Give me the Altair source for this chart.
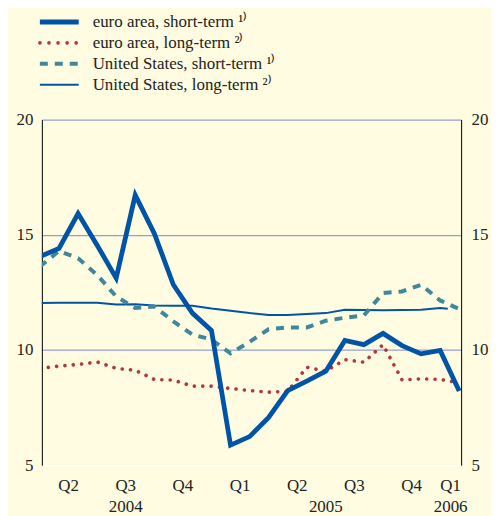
import altair as alt
import pandas as pd

# ---------------- data (monthly, Apr 2004 = 0) ----------------
months = list(range(23))
euro_short = [14.05, 14.41, 15.92, 14.55, 13.12, 16.72, 15.06, 12.83, 11.60, 10.85,
              5.87, 6.24, 7.07, 8.24, 8.65, 9.08, 10.41, 10.23, 10.72, 10.19,
              9.83, 9.98, 8.22]
euro_long_x = list(range(22)) + [21.8]
euro_long = [9.20, 9.30, 9.37, 9.48, 9.20, 9.12, 8.72, 8.69, 8.43, 8.43,
             8.33, 8.24, 8.17, 8.20, 9.25, 9.08, 9.58, 9.47, 10.23, 8.70,
             8.75, 8.72, 8.60]
us_short = [13.62, 14.30, 13.98, 13.26, 12.32, 11.82, 11.89, 11.24, 10.67, 10.45,
            9.85, 10.35, 10.90, 10.98, 10.98, 11.27, 11.40, 11.50, 12.47, 12.54,
            12.83, 12.15, 11.78]
us_long_x = list(range(22)) + [21.4]
us_long = [12.04, 12.05, 12.05, 12.05, 11.97, 11.98, 11.93, 11.92, 11.92, 11.80,
           11.70, 11.60, 11.52, 11.52, 11.56, 11.60, 11.75, 11.73, 11.72, 11.73,
           11.75, 11.82, 11.79]

series_names = ["euro area, short-term", "euro area, long-term",
                "United States, short-term", "United States, long-term"]
legend_labels = ["euro area, short-term \u00b9\u207e", "euro area, long-term \u00b2\u207e",
                 "United States,  short-term \u00b9\u207e", "United States, long-term \u00b2\u207e"]

quarter_pos = [1.5, 4.5, 7.5, 10.5, 13.5, 16.5, 19.5, 21.55]
quarter_lab = ["Q2", "Q3", "Q4", "Q1", "Q2", "Q3", "Q4", "Q1"]
year_pos = [4.5, 15.0, 21.55]
year_lab = ["2004", "2005", "2006"]
quarter_bounds = [0.1, 3, 6, 9, 12, 15, 18, 21]

# ---------------- build tables ----------------
series_x = [months, euro_long_x, months, us_long_x]
series_y = [euro_short, euro_long, us_short, us_long]
rows = []
for name, xs, ys in zip(series_names, series_x, series_y):
    for xv, yv in zip(xs, ys):
        rows.append({"series": name, "m": xv, "v": yv})
df = pd.DataFrame(rows)
leg_df = pd.DataFrame({"series": series_names, "label": legend_labels})
q_df = pd.DataFrame({"pos": quarter_pos, "lab": quarter_lab})
y_df = pd.DataFrame({"pos": year_pos, "lab": year_lab})

FONT = "Liberation Serif"
FS = 17
GRID = "#939FD9"
BG = "#FFFCE1"
BLUE = "#0054A6"
TXT = "#222222"

styles = {
    "euro area, short-term": dict(color=BLUE, strokeWidth=4.8),
    "euro area, long-term": dict(color="#B4383A", strokeWidth=3.6, strokeDash=[0.1, 8.3], strokeCap="round"),
    "United States, short-term": dict(color="#41879B", strokeWidth=4, strokeDash=[8, 7]),
    "United States, long-term": dict(color=BLUE, strokeWidth=2),
}
legend_styles = dict(styles)
legend_styles["euro area, long-term"] = dict(color="#B4383A", strokeWidth=3.6, strokeDash=[0.1, 9], strokeCap="round")

xscale = alt.Scale(domain=[0.1, 22.1], nice=False, zero=False)
yscale = alt.Scale(domain=[5, 20], nice=False, zero=False)

grid_cond = {"condition": {"test": "datum.value === 5", "value": "white"}, "value": GRID}

x_axis = alt.Axis(values=quarter_bounds, labels=False, ticks=True, tickSize=4,
                  tickColor="black", domainColor="black", grid=True, gridColor=GRID,
                  gridWidth=1.2, offset=3, title=None)
left_axis = alt.Axis(values=[5, 10, 15, 20], grid=True, gridColor=grid_cond, gridWidth=1.2,
                     ticks=False, domainColor="black", labelPadding=9, labelFont=FONT,
                     labelFontSize=FS, labelColor=TXT, title=None, orient="left")
right_axis = alt.Axis(values=[5, 10, 15, 20], grid=False, ticks=False, domainColor="black",
                      labelPadding=10, labelFont=FONT, labelFontSize=FS, labelColor=TXT,
                      title=None, orient="right")

base = alt.Chart(df)
draw_order = ["United States, long-term", "euro area, long-term",
              "United States, short-term", "euro area, short-term"]
layers = []
for i, name in enumerate(draw_order):
    if i == 0:
        yax = left_axis
    elif i == 1:
        yax = right_axis
    else:
        yax = None
    xax = x_axis if i == 0 else None
    layers.append(
        base.transform_filter(alt.datum.series == name)
        .mark_line(clip=True, strokeJoin="miter", **styles[name])
        .encode(x=alt.X("m:Q", scale=xscale, axis=xax),
                y=alt.Y("v:Q", scale=yscale, axis=yax))
    )

# legend (manual)
for i, name in enumerate(series_names):
    yy = -98 + 21 * i
    leg_row = alt.Chart(leg_df).transform_filter(alt.datum.series == name)
    layers.append(leg_row.mark_rule(**legend_styles[name]).encode(
        x=alt.value(-2), x2=alt.value(37), y=alt.value(yy)))
    layers.append(leg_row.mark_text(align="left", baseline="middle", font=FONT,
                                    fontSize=FS, color=TXT).encode(
        x=alt.value(51), y=alt.value(yy), text="label:N"))

# quarter and year labels
layers.append(alt.Chart(q_df).mark_text(baseline="middle", font=FONT, fontSize=FS, color=TXT).encode(
    x=alt.X("pos:Q", scale=xscale, axis=None), y=alt.value(368), text="lab:N"))
layers.append(alt.Chart(y_df).mark_text(baseline="middle", font=FONT, fontSize=FS, color=TXT).encode(
    x=alt.X("pos:Q", scale=xscale, axis=None), y=alt.value(389), text="lab:N"))

chart = alt.layer(*layers).resolve_axis(y="independent").properties(
    width=421, height=347,
    autosize=alt.AutoSizeParams(type="none"),
    padding={"left": 34, "top": 111, "right": 30, "bottom": 52},
    background=BG,
).configure_view(strokeWidth=0, fill=BG)

chart.save("out.html", embed_options={"renderer": "svg", "actions": False})
